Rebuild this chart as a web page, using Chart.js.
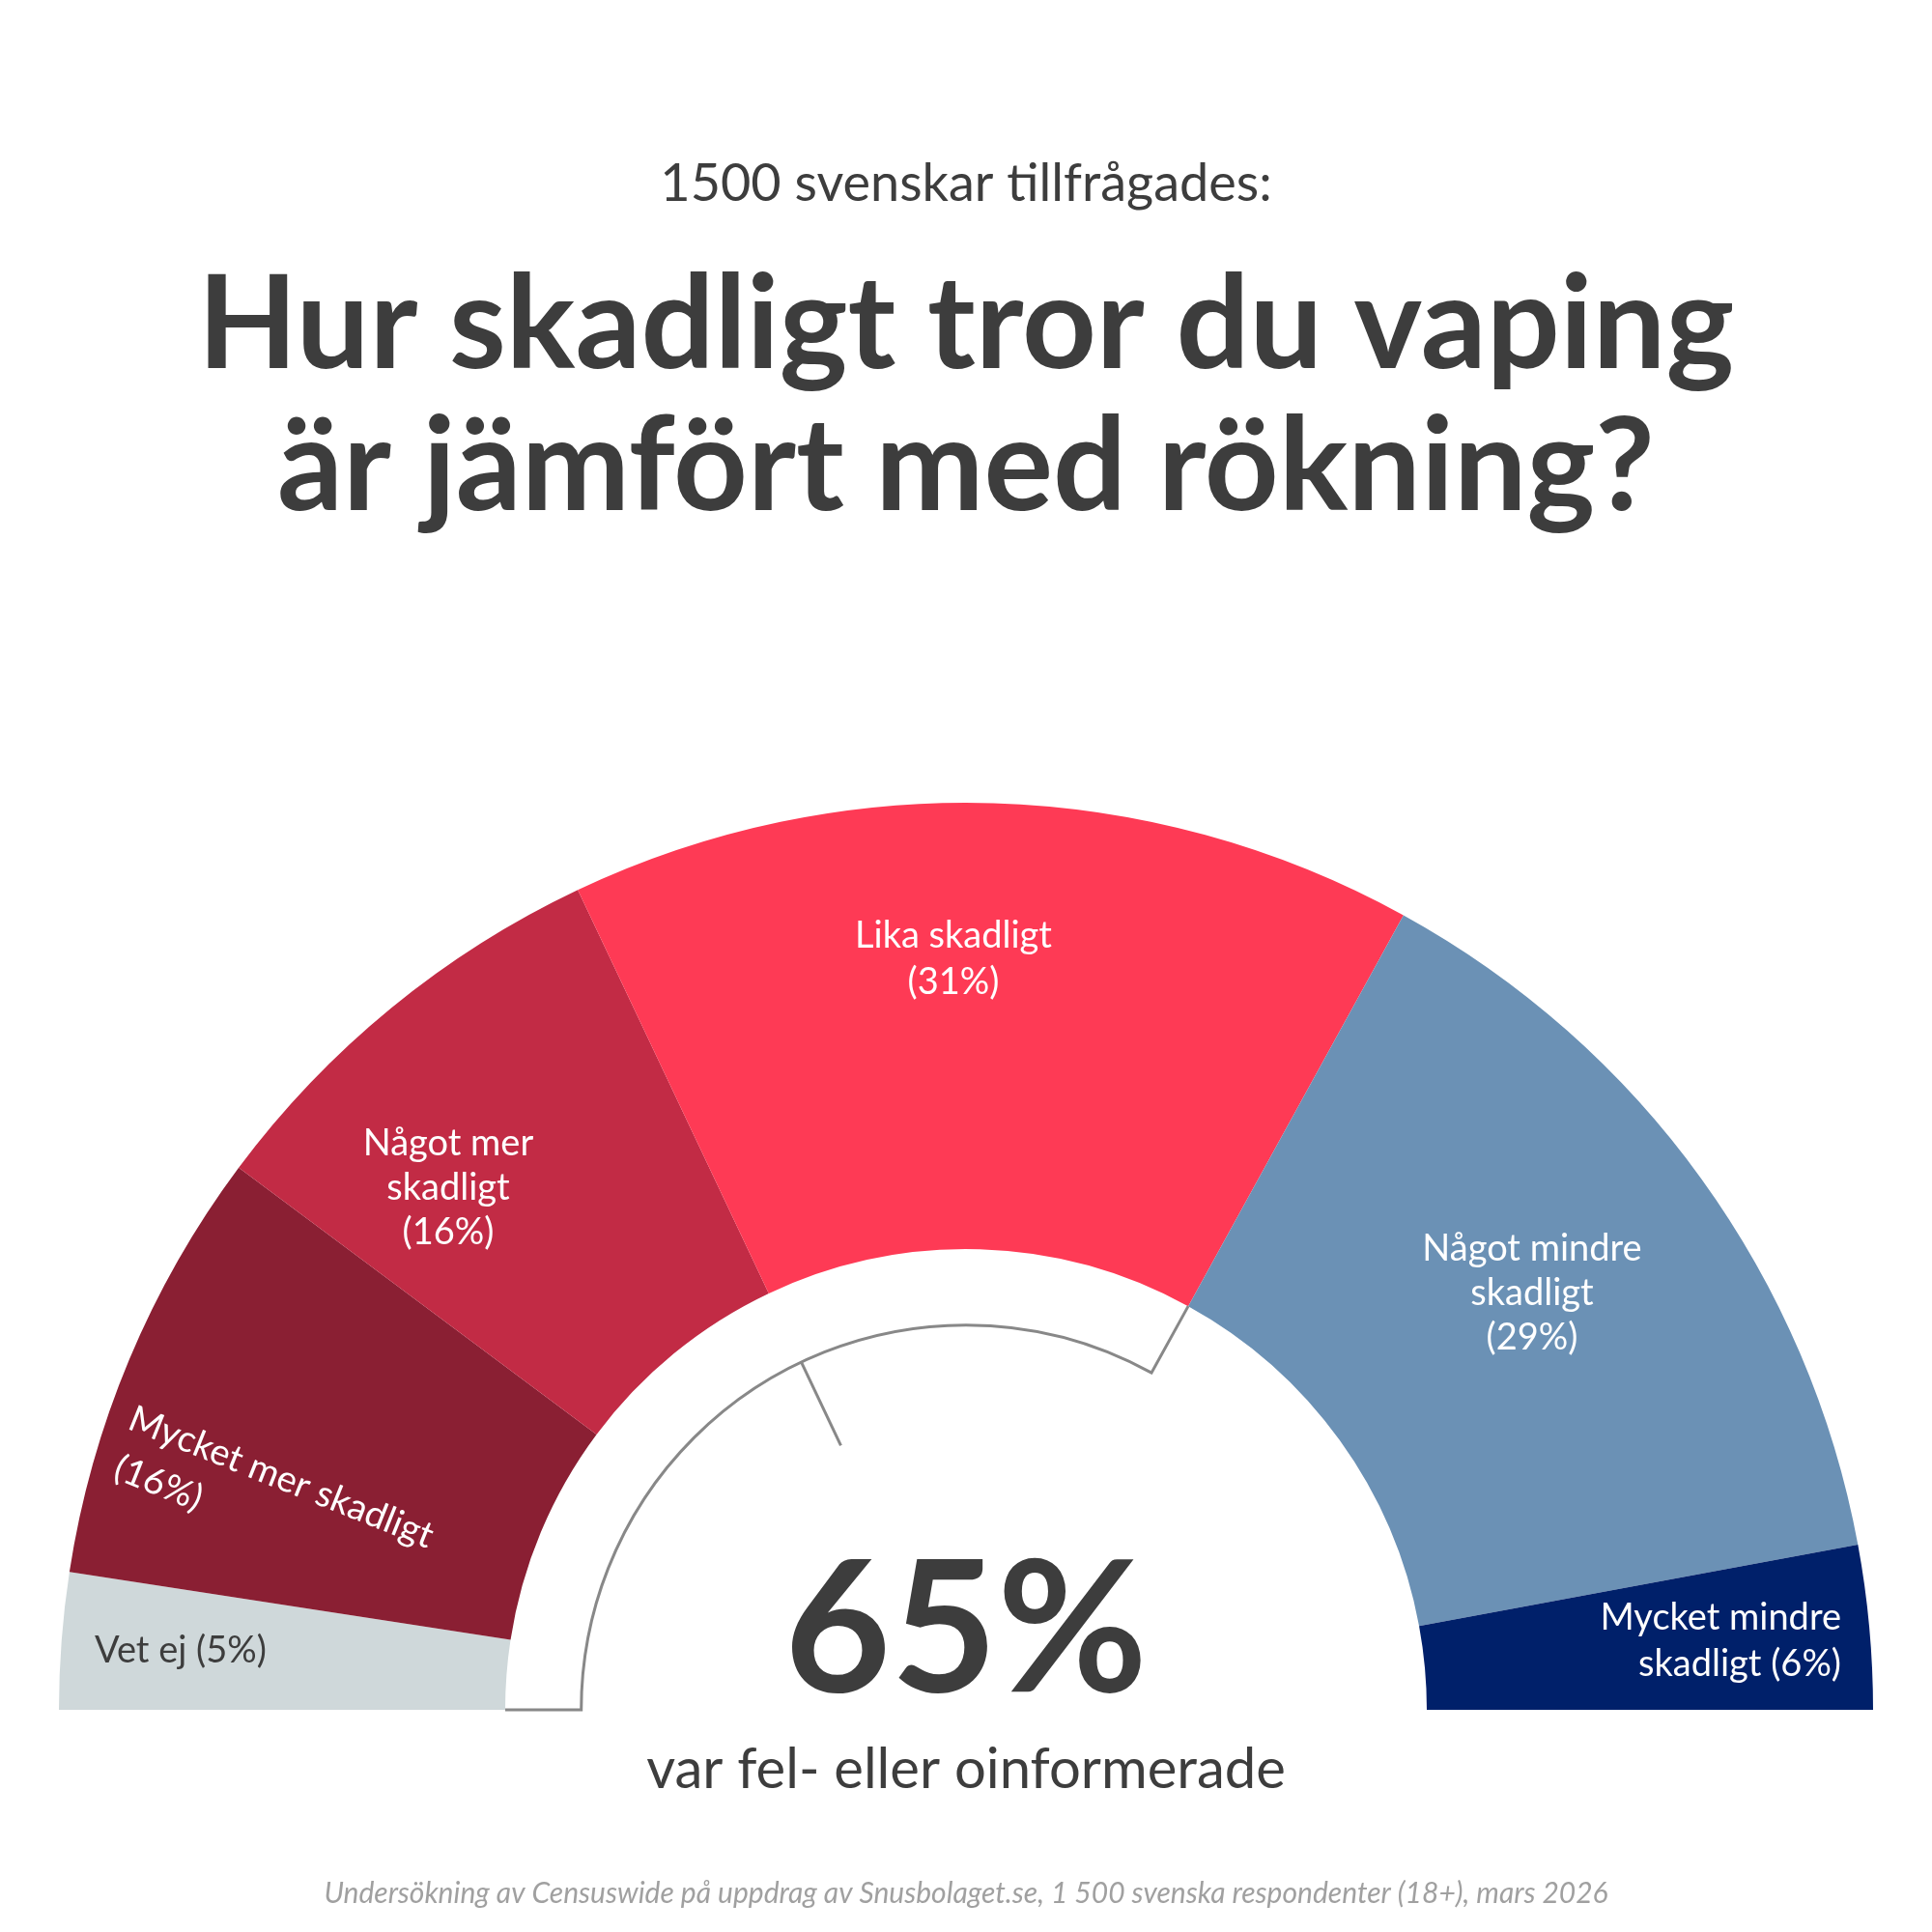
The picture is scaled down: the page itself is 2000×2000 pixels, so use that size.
<!DOCTYPE html>
<html><head><meta charset="utf-8">
<script src="https://cdn.jsdelivr.net/npm/chart.js@4"></script>
<style>html,body{margin:0;padding:0;background:#fff}#w{width:2000px;height:2000px}</style>
</head><body><div id="w"><canvas id="c" width="2000" height="2000"></canvas></div>
<script>
const categories=["Vet ej","Mycket mer skadligt","Något mer skadligt","Lika skadligt","Något mindre skadligt","Mycket mindre skadligt"];
const values=[5,16,16,31,29,6];
const colors=["#cfd8da","#8a1f33","#c22b45","#fe3a55","#6b91b5","#00206a"];
const F="Lato, 'Open Sans', sans-serif";
const dark="#3d3d3d";
const deco={id:'deco',afterDatasetsDraw(ch){
  const g=ch.ctx, a=ch.getDatasetMeta(0).data[0];
  const cx=a.x, cy=a.y, R=a.outerRadius, r=a.innerRadius;
  const tot=values.reduce((s,v)=>s+v,0);
  const ang=k=>Math.PI+Math.PI*values.slice(0,k).reduce((s,v)=>s+v,0)/tot;
  const P=(t,rr)=>[cx+rr*Math.cos(t),cy+rr*Math.sin(t)];
  g.save();
  // bracket
  const br=r*0.835; g.strokeStyle="#888"; g.lineWidth=3;
  g.beginPath(); g.moveTo(cx-r,cy); g.lineTo(cx-br,cy);
  g.arc(cx,cy,br,Math.PI,ang(4)); const e=P(ang(4),r*1.0); g.lineTo(e[0],e[1]); g.stroke();
  const t1=P(ang(3),br),t2=P(ang(3),br*0.76); g.beginPath(); g.moveTo(t1[0],t1[1]); g.lineTo(t2[0],t2[1]); g.stroke();
  // labels
  g.textAlign="center"; g.textBaseline="middle"; g.fillStyle="#fff";
  const txt=(lines,x,y,lh,al,col,fs)=>{g.font=`${fs||38}px ${F}`;g.textAlign=al||"center";g.fillStyle=col||"#fff";lines.forEach((l,i)=>g.fillText(l,x,y+i*lh));};
  txt(["Lika skadligt","(31%)"],987,969,48);
  txt(["Något mer","skadligt","(16%)"],464,1184,46);
  txt(["Något mindre","skadligt","(29%)"],1586,1293,46);
  txt(["Mycket mindre","skadligt (6%)"],1906,1675,48,"right");
  txt(["Vet ej (5%)"],98,1709,0,"left",dark);
  g.save(); g.translate(135,1467); g.rotate(0.38); txt(["Mycket mer skadligt"],0,0,0,"left"); g.restore();
  g.save(); g.translate(120,1518); g.rotate(0.38); txt(["(16%)"],0,0,0,"left"); g.restore();
  // titles
  g.fillStyle=dark; g.textAlign="center";
  g.font=`54px ${F}`; g.fillText("1500 svenskar tillfrågades:",1000,191);
  g.font=`bold 134px ${F}`; g.fillText("Hur skadligt tror du vaping",1000,338); g.fillText("är jämfört med rökning?",1000,485);
  g.font=`bold 190px ${F}`; g.fillText("65%",1000,1690);
  g.font=`58px ${F}`; g.fillText("var fel- eller oinformerade",1000,1832);
  g.fillStyle="#a0a0a0"; g.font=`italic 30px ${F}`;
  g.fillText("Undersökning av Censuswide på uppdrag av Snusbolaget.se, 1 500 svenska respondenter (18+), mars 2026",1000,1960);
  g.restore();
}};
new Chart(document.getElementById('c'),{type:'doughnut',
 data:{labels:categories,datasets:[{data:values,backgroundColor:colors,borderWidth:0}]},
 options:{responsive:false,animation:false,rotation:-90,circumference:180,cutout:'50.8%',
  layout:{padding:{left:61,right:61,top:831,bottom:230}},
  plugins:{legend:{display:false},tooltip:{enabled:false}}},
 plugins:[deco]});
</script></body></html>
